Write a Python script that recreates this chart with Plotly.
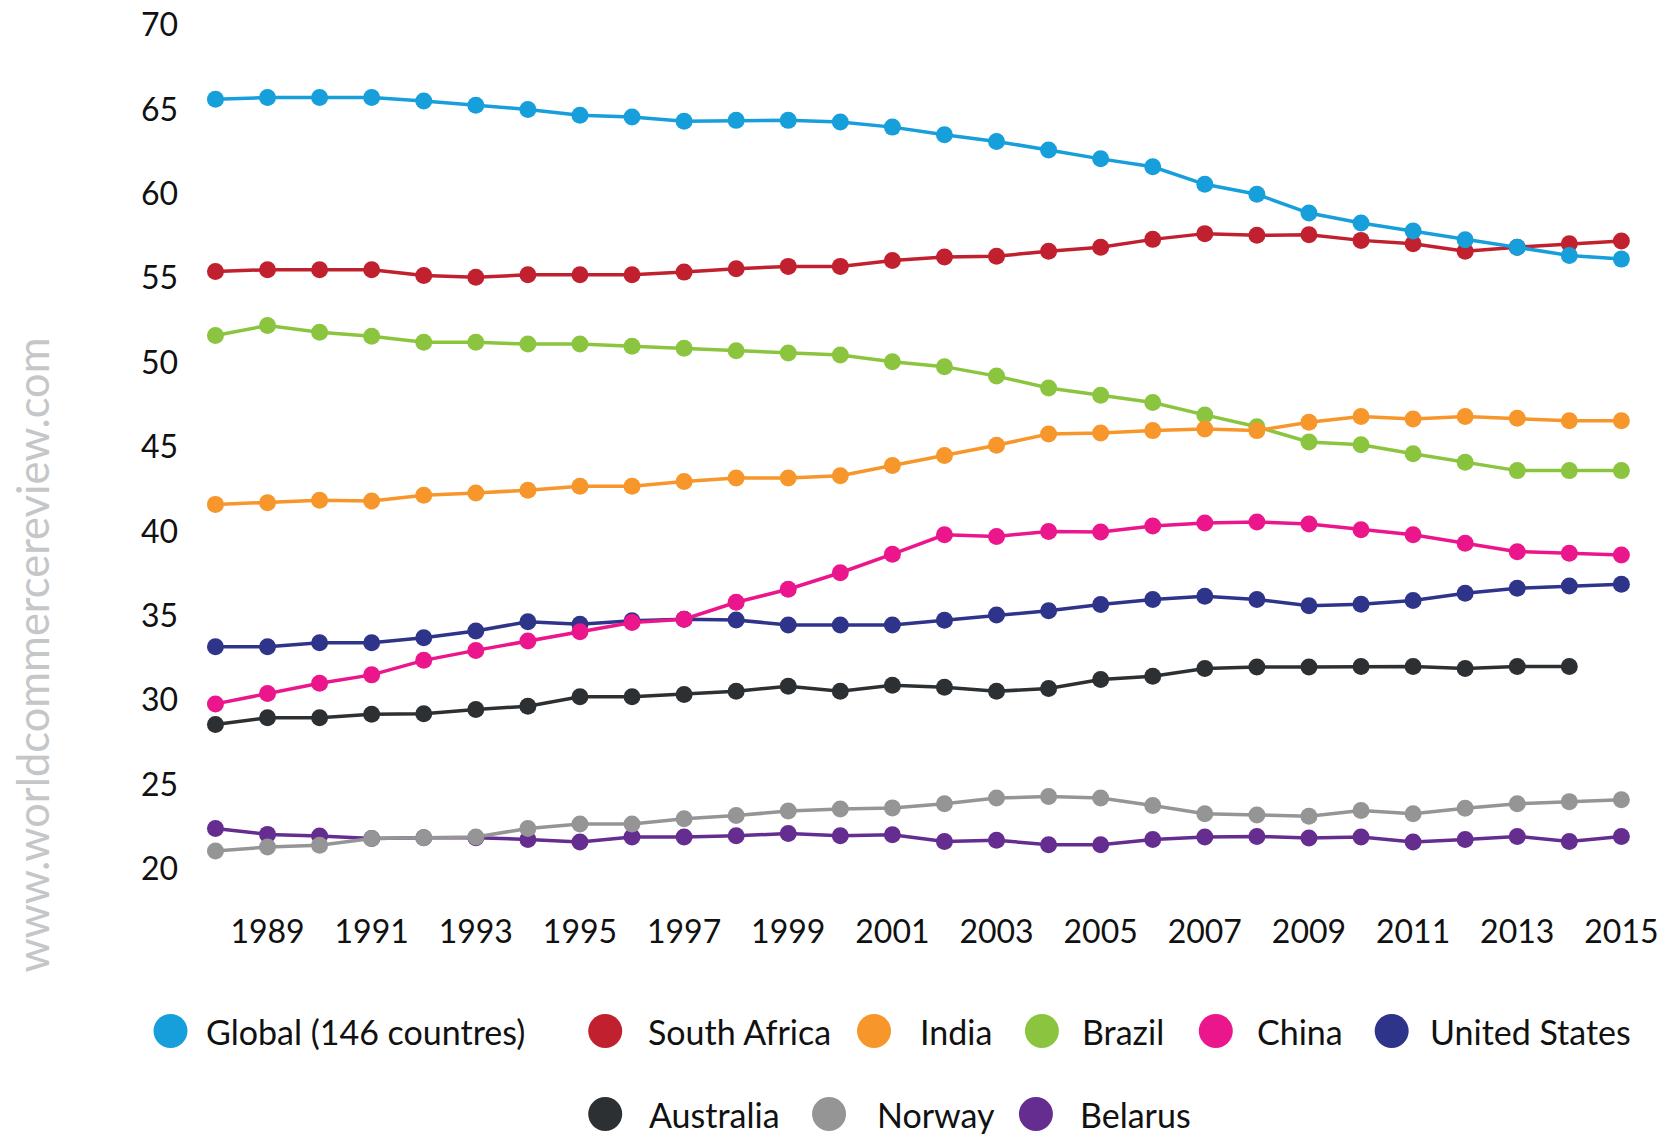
import plotly.graph_objects as go

years = list(range(1988, 2016))

series_names = ["Global (146 countres)", "South Africa", "India", "Brazil", "China",
                "United States", "Australia", "Norway", "Belarus"]

global_146 = [65.6, 65.7, 65.7, 65.7, 65.5, 65.25, 65.0, 64.65, 64.55, 64.3, 64.35, 64.35, 64.25, 63.95,
              63.5, 63.1, 62.6, 62.07, 61.6, 60.56, 59.97, 58.86, 58.27, 57.8, 57.28, 56.84, 56.35, 56.13]
south_africa = [55.4, 55.5, 55.5, 55.5, 55.16, 55.06, 55.2, 55.2, 55.2, 55.36, 55.56, 55.7, 55.7, 56.05,
                56.25, 56.3, 56.6, 56.84, 57.3, 57.64, 57.54, 57.58, 57.24, 57.04, 56.6, 56.84, 57.04, 57.2]
india = [41.6, 41.7, 41.84, 41.8, 42.14, 42.28, 42.44, 42.68, 42.68, 42.96, 43.16, 43.16, 43.3, 43.9,
         44.5, 45.1, 45.77, 45.83, 45.97, 46.07, 45.97, 46.46, 46.8, 46.66, 46.8, 46.7, 46.56, 46.56]
brazil = [51.6, 52.2, 51.8, 51.56, 51.2, 51.2, 51.1, 51.1, 50.97, 50.85, 50.7, 50.57, 50.45, 50.05,
          49.76, 49.2, 48.5, 48.07, 47.64, 46.9, 46.2, 45.3, 45.13, 44.6, 44.1, 43.6, 43.6, 43.6]
china = [29.78, 30.4, 31.0, 31.5, 32.36, 32.95, 33.5, 34.05, 34.6, 34.8, 35.8, 36.57, 37.55, 38.65,
         39.8, 39.7, 40.0, 39.96, 40.32, 40.5, 40.56, 40.44, 40.1, 39.8, 39.3, 38.8, 38.7, 38.6]
united_states = [33.17, 33.17, 33.4, 33.4, 33.7, 34.1, 34.65, 34.5, 34.7, 34.8, 34.75, 34.46, 34.46, 34.45,
                 34.74, 35.04, 35.3, 35.67, 35.96, 36.16, 35.96, 35.6, 35.68, 35.9, 36.33, 36.63, 36.77, 36.87]
australia = [28.56, 28.96, 28.96, 29.16, 29.2, 29.45, 29.64, 30.2, 30.2, 30.34, 30.53, 30.83, 30.53, 30.89,
             30.77, 30.53, 30.69, 31.22, 31.42, 31.88, 31.96, 31.96, 32.0, 32.0, 31.88, 32.0, 32.0, None]
norway = [21.06, 21.3, 21.4, 21.8, 21.85, 21.9, 22.4, 22.67, 22.67, 22.97, 23.17, 23.43, 23.56, 23.62,
          23.86, 24.2, 24.3, 24.2, 23.76, 23.27, 23.2, 23.13, 23.46, 23.27, 23.6, 23.86, 23.99, 24.1]
belarus = [22.4, 22.05, 21.95, 21.8, 21.85, 21.85, 21.75, 21.6, 21.9, 21.9, 21.97, 22.1, 21.97, 22.03,
           21.63, 21.7, 21.44, 21.44, 21.75, 21.9, 21.93, 21.84, 21.9, 21.6, 21.75, 21.93, 21.63, 21.93]

y_ticks = [20, 25, 30, 35, 40, 45, 50, 55, 60, 65, 70]
x_ticks = list(range(1989, 2016, 2))

colors = ["#169fdb", "#c1202f", "#f7962a", "#8bc53f", "#ec168c",
          "#2e3489", "#2d3033", "#959595", "#642d8f"]

all_values = [global_146, south_africa, india, brazil, china, united_states, australia, norway, belarus]

FONT = "Lato"

fig = go.Figure()
# draw lower series first so Global sits on top
draw_order = [8, 7, 6, 5, 4, 3, 2, 1, 0]
for i in draw_order:
    fig.add_trace(go.Scatter(
        x=years, y=all_values[i], name=series_names[i], mode="lines+markers",
        line=dict(color=colors[i], width=3.5),
        marker=dict(color=colors[i], size=17),
        showlegend=False, connectgaps=False,
    ))

# plot-area geometry (pixels)
W_FIG, H_FIG = 1662, 1139
L, R, T, B = 178.5, 24.5, 25, 229
PW = W_FIG - L - R
PH = H_FIG - T - B


def px_to_paper_x(px):
    return (px - L) / PW


def px_to_paper_y(py):
    return (H_FIG - B - py) / PH


# custom legend: two centred rows with large round swatches
# (series index, swatch centre x, text left x) per row, row centre y
legend_rows = [
    ([(0, 170, 204), (1, 605, 646), (2, 874, 918), (3, 1042, 1080), (4, 1216, 1255), (5, 1392, 1428)], 1031),
    ([(6, 605, 647), (7, 829, 875), (8, 1036, 1078)], 1114),
]
shapes = []
annotations = []
for items, ypx in legend_rows:
    for i, xc, xt in items:
        shapes.append(dict(
            type="circle", xref="paper", yref="paper",
            xsizemode="pixel", ysizemode="pixel",
            xanchor=px_to_paper_x(xc), yanchor=px_to_paper_y(ypx),
            x0=-17, x1=17, y0=-17, y1=17,
            fillcolor=colors[i], line=dict(width=0),
        ))
        annotations.append(dict(
            text=series_names[i], xref="paper", yref="paper",
            x=px_to_paper_x(xt), y=px_to_paper_y(ypx),
            xanchor="left", yanchor="middle", showarrow=False,
            font=dict(family=FONT, size=34, color="#111111"),
        ))

annotations.append(dict(
    text="www.worldcommercereview.com", xref="paper", yref="paper",
    x=px_to_paper_x(31), y=px_to_paper_y(655), textangle=-90,
    xanchor="center", yanchor="middle", showarrow=False,
    font=dict(family=FONT, size=43.5, color="#c4c6c8"),
))

fig.update_layout(
    width=W_FIG, height=H_FIG,
    margin=dict(l=L, r=R, t=T, b=B, autoexpand=False),
    paper_bgcolor="white", plot_bgcolor="white",
    font=dict(family=FONT, size=32, color="#111111"),
    shapes=shapes, annotations=annotations,
    xaxis=dict(range=[1987.3, 2015.3], tickvals=x_ticks, ticktext=[str(v) for v in x_ticks],
               showgrid=False, zeroline=False, showline=False, ticks="",
               tickfont=dict(family=FONT, size=32, color="#111111")),
    yaxis=dict(range=[17.57, 70], tickvals=y_ticks, ticktext=[str(v) for v in y_ticks],
               showgrid=False, zeroline=False, showline=False, ticks="",
               tickfont=dict(family=FONT, size=32, color="#111111")),
)

fig.write_html("out.html")
